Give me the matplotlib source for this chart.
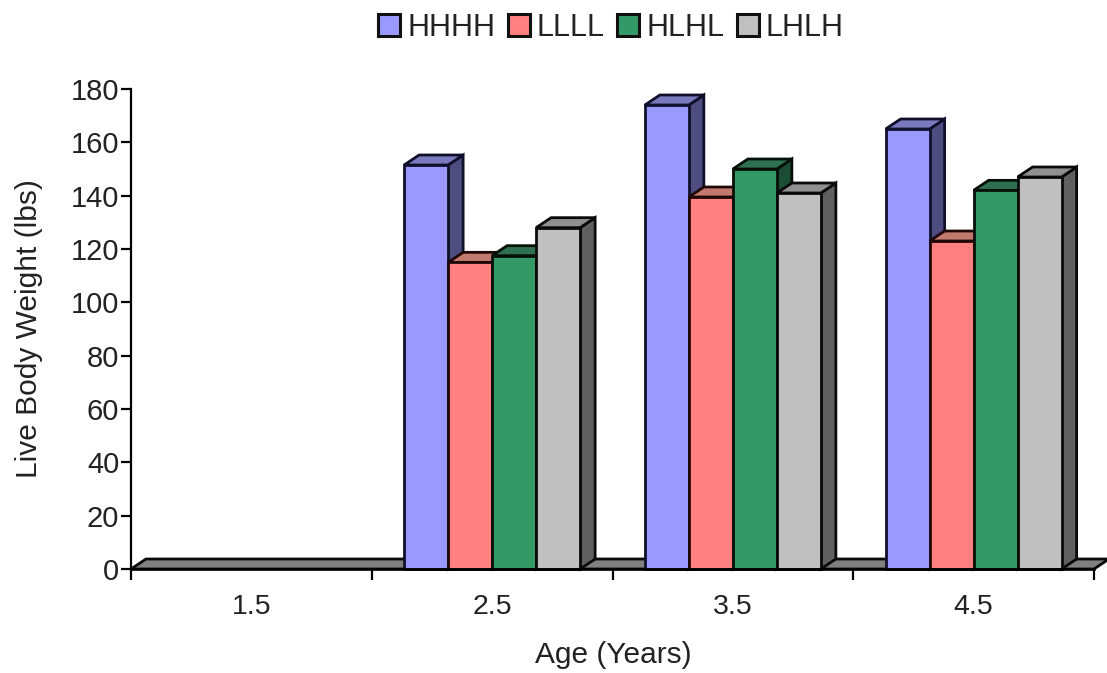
import matplotlib
matplotlib.use('Agg')
import matplotlib.pyplot as plt
from matplotlib.patches import Polygon, Patch

plt.rcParams['font.family'] = ['Liberation Sans', 'DejaVu Sans']

ages = ['1.5', '2.5', '3.5', '4.5']
series = ['HHHH', 'LLLL', 'HLHL', 'LHLH']
hhhh = [0, 151.5, 174, 165]
llll = [0, 115, 139.5, 123]
hlhl = [0, 117.5, 150, 142]
lhlh = [0, 128, 141, 147]
valores = [hhhh, llll, hlhl, lhlh]

frente = ['#9999FF', '#FF8080', '#339966', '#C0C0C0']
lado = ['#4D4D80', '#804040', '#1A4D33', '#606060']
arriba = ['#7A7ABF', '#C27A6E', '#2F7050', '#909090']
borde = ['#10102A', '#200808', '#061008', '#0A0A0A']

W, H = 1107, 673
fig = plt.figure(figsize=(W / 100, H / 100), dpi=100)
ax = fig.add_axes([131 / W, 1 - 569 / H, (1094 - 131) / W, (569 - 89) / H])
ax.set_xlim(-0.5, 3.5)
ax.set_ylim(0, 180)

# profundidad del efecto 3D y ancho de barra en unidades de datos
dx = 15 / 240.75
dy = 10 / (480 / 180)
ancho = 44 / 240.75
lw = 2.0


def cara(puntos, color, ec, z):
    ax.add_patch(Polygon(puntos, closed=True, facecolor=color, edgecolor=ec,
                         linewidth=lw, joinstyle='miter', clip_on=False, zorder=z))


def barra(x, v, i, z):
    cara([(x + ancho, 0), (x + ancho + dx, dy), (x + ancho + dx, v + dy), (x + ancho, v)], lado[i], borde[i], z)
    cara([(x, v), (x + dx, v + dy), (x + ancho + dx, v + dy), (x + ancho, v)], arriba[i], borde[i], z)
    cara([(x, 0), (x + ancho, 0), (x + ancho, v), (x, v)], frente[i], borde[i], z)


# suelo gris de las barras con valor cero
cara([(-0.5, 0), (-0.5 + dx, dy), (3.5 + dx, dy), (3.5, 0)], '#808080', '#0A0A0A', 1)

for g in range(len(ages)):
    for i in range(len(series)):
        if valores[i][g] > 0:
            x = g - 2 * ancho + i * ancho
            barra(x, valores[i][g], i, 2 + g * 4 + i)

ax.spines['top'].set_visible(False)
ax.spines['right'].set_visible(False)
ax.spines['left'].set_linewidth(1.6)
ax.spines['bottom'].set_linewidth(1.8)
ax.spines['left'].set_zorder(30)
ax.spines['bottom'].set_zorder(30)

ax.set_yticks(range(0, 181, 20))
ax.set_xticks(range(len(ages)))
ax.set_xticklabels(ages)
ax.set_xticks([-0.5, 0.5, 1.5, 2.5, 3.5], minor=True)
ax.tick_params(axis='x', which='major', length=0, labelsize=20.5, pad=18, labelcolor='#222222')
ax.tick_params(axis='x', which='minor', length=8, width=1.6)
ax.tick_params(axis='y', length=7, width=1.6, labelsize=21, pad=1.5, labelcolor='#222222')

ax.set_xlabel('Age (Years)', fontsize=21.5, color='#222222')
ax.xaxis.set_label_coords(482 / 963, -72 / 480)
ax.set_ylabel('Live Body Weight (lbs)', fontsize=21.5, color='#222222')
ax.yaxis.set_label_coords(-88 / 963, 0.5)

handles = [Patch(facecolor=frente[i], edgecolor='#111111', linewidth=2.2, label=series[i]) for i in range(4)]
fig.legend(handles=handles, loc='center', bbox_to_anchor=(611 / W, 1 - 28 / H), ncol=4,
           frameon=False, fontsize=22, handlelength=0.72, handleheight=0.72,
           handletextpad=0.22, columnspacing=0.42, labelcolor='#222222')

fig.savefig('out.png', dpi=100)
